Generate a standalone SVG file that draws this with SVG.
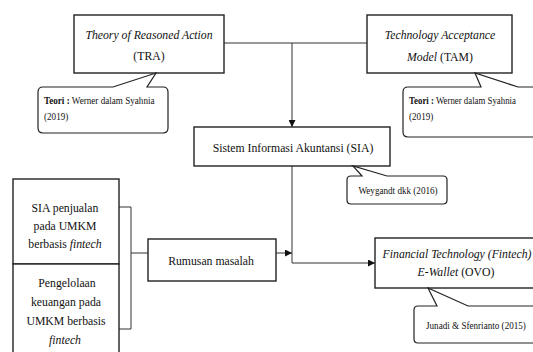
<svg xmlns="http://www.w3.org/2000/svg" width="533" height="352" viewBox="0 0 533 352">
<defs>
<style>
.box{fill:#fff;stroke:#222;stroke-width:1.4}
.call{fill:#fff;stroke:#222;stroke-width:1.2}
.t{font-family:"Liberation Serif","Times New Roman",serif;font-size:13.5px;fill:#111;text-anchor:middle}
.s{font-family:"Liberation Serif","Times New Roman",serif;font-size:9.8px;fill:#111}
.i{font-style:italic}
.b{font-weight:bold}
.ln{fill:none;stroke:#333;stroke-width:1}
</style>
<marker id="ah" viewBox="0 0 10 10" refX="10" refY="5" markerWidth="7" markerHeight="7" orient="auto" markerUnits="userSpaceOnUse">
<path d="M0,0 L10,5 L0,10 z" fill="#111"/>
</marker>
</defs>
<rect width="533" height="352" fill="#fff"/>

<g id="connectors">
<path class="ln" d="M224,43 H367"/>
<path class="ln" d="M292,43 V127" marker-end="url(#ah)"/>
<path class="ln" d="M292,166 V263 H375" marker-end="url(#ah)"/>
<path class="ln" d="M276,253 H292" marker-end="url(#ah)"/>
<path class="ln" d="M117,207 H131 V329 H119"/>
<path class="ln" d="M131,253 H148"/>
</g>

<g id="tra">
<rect class="box" x="74" y="15" width="150" height="58"/>
<text class="t i" transform="translate(149,39) scale(0.87,1)">Theory of Reasoned Action</text>
<text class="t" transform="translate(149,60) scale(0.87,1)">(TRA)</text>
</g>
<g id="tra-note">
<path class="call" d="M43,87 H113 L156,73 L147,87 H163 Q168,87 168,92 V128 Q168,133 163,133 H43 Q38,133 38,128 V92 Q38,87 43,87 Z"/>
<text class="s" transform="translate(44,104) scale(0.93,1)"><tspan class="b">Teori :</tspan> Werner dalam Syahnia</text>
<text class="s" transform="translate(44,120) scale(0.93,1)">(2019)</text>
</g>

<g id="tam">
<rect class="box" x="367" y="15" width="145" height="58"/>
<text class="t i" transform="translate(440,39) scale(0.87,1)">Technology Acceptance</text>
<text class="t" transform="translate(440,61) scale(0.87,1)"><tspan class="i">Model</tspan> (TAM)</text>
</g>
<g id="tam-note">
<path class="call" d="M408,87 H481 L475,73 L518,87 H545 V137 H408 Q403,137 403,132 V92 Q403,87 408,87 Z"/>
<text class="s" transform="translate(409,104) scale(0.9,1)"><tspan class="b">Teori :</tspan> Werner dalam Syahnia</text>
<text class="s" transform="translate(409,120) scale(0.93,1)">(2019)</text>
</g>

<g id="sia">
<rect class="box" x="194" y="127" width="196" height="39"/>
<text class="t" transform="translate(293,152) scale(0.87,1)">Sistem Informasi Akuntansi (SIA)</text>
</g>
<g id="sia-note">
<path class="call" d="M351,176 H362 L353,166 L387,176 H443 Q447,176 447,180 V200 Q447,204 443,204 H351 Q347,204 347,200 V180 Q347,176 351,176 Z"/>
<text class="s" text-anchor="middle" transform="translate(398,194) scale(0.93,1)">Weygandt dkk (2016)</text>
</g>

<g id="sia-penjualan">
<rect class="box" x="13" y="179" width="106" height="85"/>
<text class="t" transform="translate(65,212) scale(0.87,1)">SIA penjualan</text>
<text class="t" transform="translate(65,230) scale(0.87,1)">pada UMKM</text>
<text class="t" transform="translate(65,248) scale(0.87,1)">berbasis <tspan class="i">fintech</tspan></text>
</g>
<g id="pengelolaan">
<rect class="box" x="13" y="264" width="106" height="95"/>
<text class="t" transform="translate(67,287) scale(0.87,1)">Pengelolaan</text>
<text class="t" transform="translate(66,306) scale(0.87,1)">keuangan pada</text>
<text class="t" transform="translate(66,325) scale(0.87,1)">UMKM berbasis</text>
<text class="t i" transform="translate(65,344) scale(0.87,1)">fintech</text>
</g>

<g id="rumusan">
<rect class="box" x="148" y="239" width="128" height="42"/>
<text class="t" transform="translate(211,265) scale(0.87,1)">Rumusan masalah</text>
</g>

<g id="fintech">
<rect class="box" x="375" y="238" width="170" height="50"/>
<text class="t i" transform="translate(457,258) scale(0.87,1)">Financial Technology (Fintech)</text>
<text class="t" transform="translate(456,276) scale(0.87,1)"><tspan class="i">E-Wallet</tspan> (OVO)</text>
</g>
<g id="fintech-note">
<path class="call" d="M418,306 H437 L428,288 L468,306 H545 V343 H418 Q414,343 414,339 V310 Q414,306 418,306 Z"/>
<text class="s" transform="translate(426,329) scale(0.93,1)">Junadi &amp; Sfenrianto (2015)</text>
</g>
</svg>
